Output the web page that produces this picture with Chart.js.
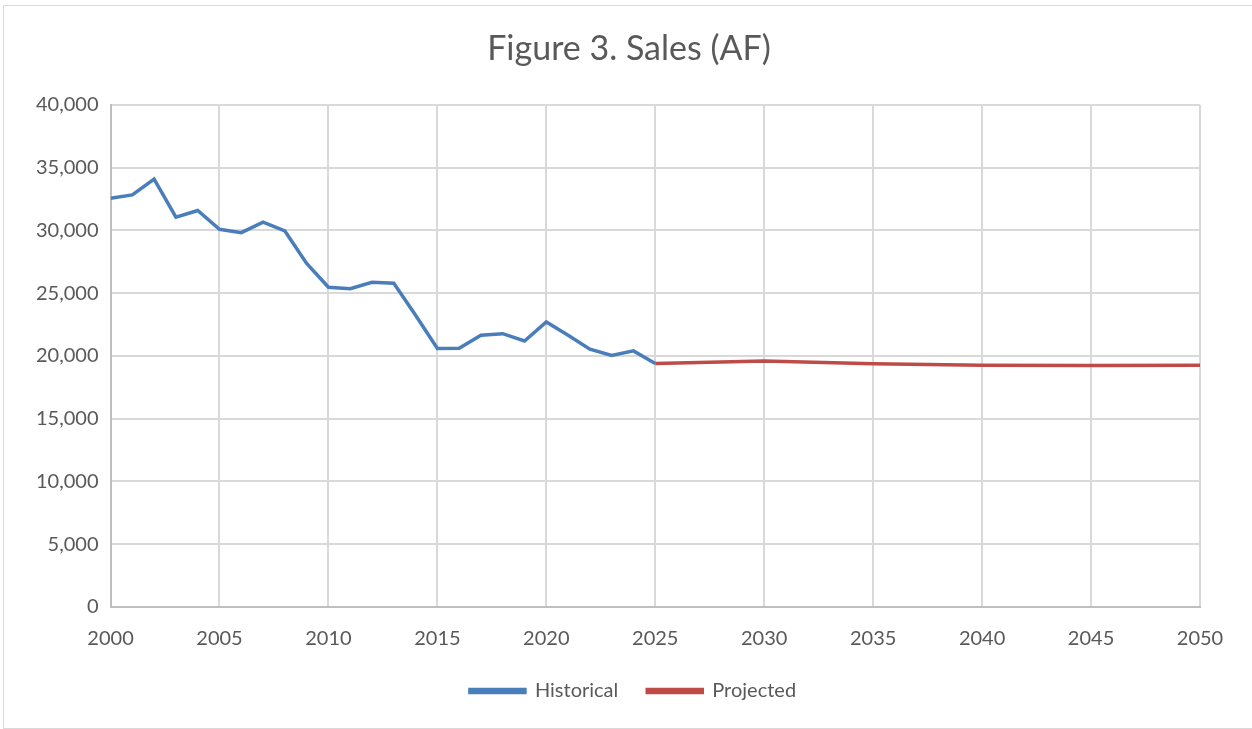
<!DOCTYPE html>
<html>
<head>
<meta charset="utf-8">
<script src="https://cdn.jsdelivr.net/npm/chart.js@4"></script>
<style>
  html, body { margin: 0; padding: 0; background: #fff; }
  #wrap { position: absolute; left: 3px; top: 5px; width: 1260px; height: 722px; border: 1px solid #d9d9d9; }
  #chartSales { position: absolute; left: -4px; top: -6px; }
</style>
</head>
<body>
<div id="wrap"><canvas id="chartSales" width="1252" height="729"></canvas></div>
<script>
const historicalYears = [2000, 2001, 2002, 2003, 2004, 2005, 2006, 2007, 2008, 2009, 2010, 2011, 2012,
  2013, 2014, 2015, 2016, 2017, 2018, 2019, 2020, 2021, 2022, 2023, 2024, 2025];
const historicalSales = [32550, 32820, 34080, 31050, 31580, 30080, 29820, 30660, 29950, 27370, 25470, 25350, 25870,
  25790, 23230, 20590, 20600, 21640, 21770, 21190, 22700, 21640, 20530, 20030, 20400, 19400];
const projectedYears = [2025, 2030, 2035, 2040, 2045, 2050];
const projectedSales = [19400, 19600, 19370, 19250, 19240, 19250];

const toPoints = (xs, ys) => xs.map((x, i) => ({ x: x, y: ys[i] }));

const canvas = document.getElementById("chartSales");
const font = "Lato, 'Open Sans', sans-serif";
const textColor = "#595959";

// nudge title and legend to the right so they sit centred like the original
const centreShift = {
  id: "centreShift",
  afterLayout(chart) {
    chart.titleBlock.left += 17;
    chart.titleBlock.right += 17;
    chart.legend.left += 21;
    chart.legend.right += 21;
  },
};

new Chart(canvas.getContext("2d"), {
  type: "line",
  plugins: [centreShift],
  data: {
    datasets: [
      {
        label: "Historical",
        data: toPoints(historicalYears, historicalSales),
        borderColor: "#4a7ebb",
        backgroundColor: "#4a7ebb",
        borderWidth: 3.5,
        pointRadius: 0,
        tension: 0,
      },
      {
        label: "Projected",
        data: toPoints(projectedYears, projectedSales),
        borderColor: "#be4b48",
        backgroundColor: "#be4b48",
        borderWidth: 3.5,
        pointRadius: 0,
        tension: 0,
      },
    ],
  },
  options: {
    responsive: false,
    animation: false,
    layout: { padding: { left: 24, right: 52, top: 10, bottom: 18 } },
    plugins: {
      title: {
        display: true,
        text: "Figure 3. Sales (AF)",
        color: textColor,
        font: { family: font, size: 34, weight: "normal" },
        padding: { top: 19, bottom: 35 },
      },
      legend: {
        position: "bottom",
        labels: {
          color: textColor,
          font: { family: font, size: 20 },
          boxWidth: 55,
          boxHeight: 3,
          padding: 29,
        },
      },
      tooltip: { enabled: false },
    },
    scales: {
      x: {
        type: "linear",
        min: 2000,
        max: 2050,
        ticks: {
          stepSize: 5,
          color: textColor,
          font: { family: font, size: 20 },
          callback: (v) => String(v),
          maxRotation: 0,
          padding: 20,
        },
        grid: { color: "#d9d9d9", lineWidth: 2, drawTicks: false },
        border: { color: "#bfbfbf", width: 2 },
        afterFit: (s) => { s.height = 45; },
      },
      y: {
        min: 0,
        max: 40000,
        ticks: {
          stepSize: 5000,
          color: textColor,
          font: { family: font, size: 20 },
          callback: (v) => v.toLocaleString("en-US"),
          padding: 12,
        },
        grid: { color: "#d9d9d9", lineWidth: 2, drawTicks: false },
        border: { color: "#bfbfbf", width: 2 },
      },
    },
  },
});
</script>
</body>
</html>
